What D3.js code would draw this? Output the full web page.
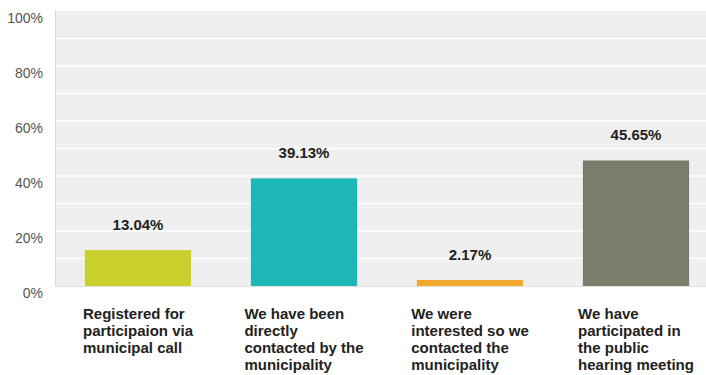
<!DOCTYPE html>
<html>
<head>
<meta charset="utf-8">
<script src="https://cdn.jsdelivr.net/npm/d3@7"></script>
<style>
  html, body { margin: 0; padding: 0; background: #fff; }
  svg { display: block; }
  text { font-family: "Liberation Sans", Arial, Helvetica, sans-serif; }
</style>
</head>
<body>
<svg id="chart" width="706" height="375"></svg>
<script>
// Survey answers: how respondents came to take part
const categories = [
  ["Registered for", "participaion via", "municipal call"],
  ["We have been", "directly", "contacted by the", "municipality"],
  ["We were", "interested so we", "contacted the", "municipality"],
  ["We have", "participated in", "the public", "hearing meeting"]
];
const values = [13.04, 39.13, 2.17, 45.65];
const valueLabels = ["13.04%", "39.13%", "2.17%", "45.65%"];
const barColors = ["#c9d02c", "#1db8b6", "#f0a82a", "#7b7c69"];
const yTicks = [0, 20, 40, 60, 80, 100];
const yGrid = [10, 20, 30, 40, 50, 60, 70, 80, 90];

const W = 706, H = 375;
const plot = { left: 55, right: 706, top: 11, bottom: 286 };

const svg = d3.select("#chart");

const x = d3.scaleBand()
  .domain(d3.range(values.length))
  .range([plot.left, 719])
  .paddingInner(0.36)
  .paddingOuter(0.18);

const y = d3.scaleLinear()
  .domain([0, 100])
  .range([plot.bottom, plot.top]);

// plot background
svg.append("rect")
  .attr("x", plot.left)
  .attr("y", plot.top)
  .attr("width", plot.right - plot.left)
  .attr("height", plot.bottom - plot.top)
  .attr("fill", "#efefef");

// horizontal grid every 10%
svg.append("g")
  .selectAll("line")
  .data(yGrid)
  .join("line")
  .attr("x1", plot.left)
  .attr("x2", plot.right)
  .attr("y1", d => y(d))
  .attr("y2", d => y(d))
  .attr("stroke", "#ffffff")
  .attr("stroke-width", 1.5);

// left and bottom edges of the plot
svg.append("line")
  .attr("x1", plot.left + 0.5).attr("x2", plot.left + 0.5)
  .attr("y1", plot.top).attr("y2", plot.bottom)
  .attr("stroke", "#d6d6d6");
svg.append("line")
  .attr("x1", plot.left).attr("x2", plot.right)
  .attr("y1", plot.bottom + 0.5).attr("y2", plot.bottom + 0.5)
  .attr("stroke", "#e2e2e2");

// y axis labels
const yAxis = d3.axisLeft(y)
  .tickValues(yTicks)
  .tickFormat(d => d + "%")
  .tickSize(0)
  .tickPadding(12);
const yG = svg.append("g")
  .attr("transform", `translate(${plot.left},0)`)
  .call(yAxis);
yG.select(".domain").remove();
yG.selectAll("text")
  .attr("dy", "0.85em")
  .attr("dx", "0")
  .attr("font-size", 14)
  .attr("font-family", "\"Liberation Sans\", Arial, sans-serif")
  .attr("fill", "#555");

// bars
svg.append("g")
  .selectAll("rect")
  .data(values)
  .join("rect")
  .attr("x", (d, i) => x(i))
  .attr("y", d => y(d))
  .attr("width", x.bandwidth())
  .attr("height", d => y(0) - y(d))
  .attr("fill", (d, i) => barColors[i]);

// value labels above the bars
svg.append("g")
  .selectAll("text")
  .data(values)
  .join("text")
  .attr("x", (d, i) => x(i) + x.bandwidth() / 2)
  .attr("y", d => y(d) - 20)
  .attr("text-anchor", "middle")
  .attr("font-size", 15)
  .attr("font-weight", "bold")
  .attr("fill", "#222")
  .text((d, i) => valueLabels[i]);

// category labels: left-aligned block centered under each bar
const catG = svg.append("g");
categories.forEach((lines, i) => {
  const t = catG.append("text")
    .attr("font-size", 15)
    .attr("font-weight", "bold")
    .attr("fill", "#222");
  lines.forEach((ln, k) => {
    t.append("tspan")
      .attr("x", 0)
      .attr("y", 319 + k * 17)
      .text(ln);
  });
  let maxW = 0;
  t.selectAll("tspan").each(function () {
    maxW = Math.max(maxW, this.getComputedTextLength());
  });
  const cx = x(i) + x.bandwidth() / 2;
  t.attr("transform", `translate(${cx - maxW / 2},0)`);
});
</script>
</body>
</html>
